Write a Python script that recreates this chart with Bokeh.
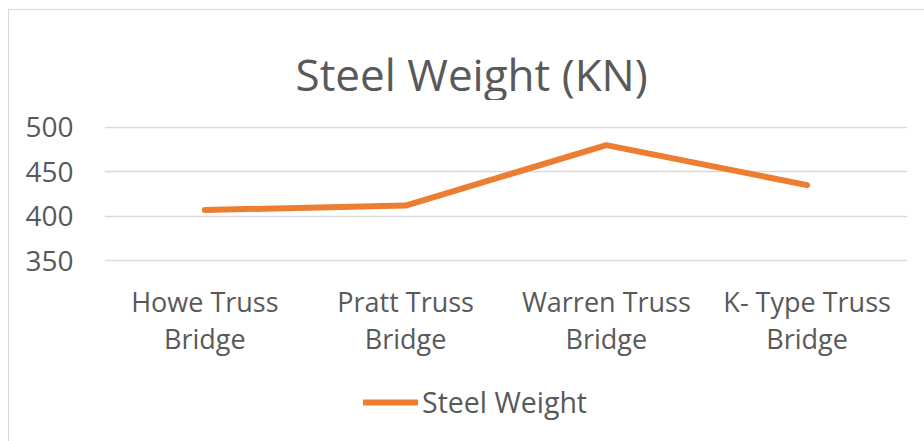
from bokeh.plotting import figure
from bokeh.models import Range1d, Legend, LegendItem, FixedTicker, Label
from bokeh.layouts import column
from bokeh.embed import file_html
from bokeh.resources import INLINE

categories = ["Howe Truss\nBridge", "Pratt Truss\nBridge", "Warren Truss\nBridge", "K- Type Truss\nBridge"]
steel_weight = [407, 412, 480, 435]
y_ticks = [350, 400, 450, 500]
title_text = "Steel Weight (KN)"
series_name = "Steel Weight"

FONT = "Open Sans"
TXT = "#595959"
ORANGE = "#ED7D31"
GRID = "#D9D9D9"
LINE = "linear-gradient(#D9D9D9,#D9D9D9)"


def strip_styles(h, top_line=False):
    if top_line:
        return {"background-color": "white",
                "background-image": LINE + ", " + LINE,
                "background-size": "1px %dpx, 916px 1px" % h,
                "background-position": "8px 9px, 8px 9px",
                "background-repeat": "no-repeat"}
    return {"background-color": "white",
            "background-image": LINE,
            "background-size": "1px %dpx" % h,
            "background-position": "8px 0px",
            "background-repeat": "no-repeat"}


# title strip
pt = figure(x_range=Range1d(0, 1), y_range=Range1d(0, 1),
            width=924, height=100, output_backend="svg", toolbar_location=None,
            min_border=0, x_axis_type=None, y_axis_type=None,
            styles=strip_styles(100, top_line=True))
pt.outline_line_color = None
pt.background_fill_alpha = 0
pt.border_fill_alpha = 0
pt.xgrid.grid_line_color = None
pt.ygrid.grid_line_color = None
pt.add_layout(Label(x=191, y=27, x_units="screen", y_units="screen", text=title_text,
                    text_align="left", text_baseline="alphabetic",
                    text_font=FONT, text_font_size="44px", text_color=TXT))

# main chart
p = figure(x_range=categories, y_range=Range1d(349, 501),
           width=924, height=270, output_backend="svg", toolbar_location=None,
           min_border_left=104, min_border_right=17, min_border_top=26, min_border_bottom=109,
           styles=strip_styles(270))
p.outline_line_color = None
p.background_fill_color = "white"
p.border_fill_alpha = 0

p.yaxis.ticker = FixedTicker(ticks=y_ticks)
p.yaxis.axis_line_color = None
p.yaxis.major_tick_line_color = None
p.yaxis.minor_tick_line_color = None
p.yaxis.major_label_standoff = 25
p.yaxis.major_label_text_font = FONT
p.yaxis.major_label_text_font_size = "28px"
p.yaxis.major_label_text_color = TXT

p.xaxis.axis_line_color = None
p.xaxis.major_tick_line_color = None
p.xaxis.major_label_standoff = 15
p.xaxis.major_label_text_font = FONT
p.xaxis.major_label_text_font_size = "27px"
p.xaxis.major_label_text_color = TXT
p.xaxis.major_label_text_line_height = 1.02

p.xgrid.grid_line_color = None
p.ygrid.grid_line_color = GRID
p.ygrid.grid_line_width = 1.5

p.line(categories, steel_weight, line_color=ORANGE, line_width=6, line_cap="round", line_join="round")

# legend strip (same series, drawn outside its range so only the legend shows)
p2 = figure(x_range=categories, y_range=Range1d(0, 1),
            width=924, height=71, output_backend="svg", toolbar_location=None,
            min_border=0, x_axis_type=None, y_axis_type=None,
            styles=strip_styles(71))
p2.outline_line_color = None
p2.background_fill_alpha = 0
p2.border_fill_alpha = 0
p2.xgrid.grid_line_color = None
p2.ygrid.grid_line_color = None
r2 = p2.line(categories, steel_weight, line_color=ORANGE, line_width=6, line_cap="round")

legend = Legend(items=[LegendItem(label=series_name, renderers=[r2])],
                location=(259, 20), orientation="horizontal", margin=0,
                glyph_width=55, glyph_height=20, label_standoff=4, padding=4,
                border_line_color=None, background_fill_alpha=0,
                label_text_font=FONT, label_text_font_size="28.5px", label_text_color=TXT)
p2.add_layout(legend, "center")

layout = column(pt, p, p2, spacing=0)
open("out.html", "w").write(file_html(layout, INLINE))
